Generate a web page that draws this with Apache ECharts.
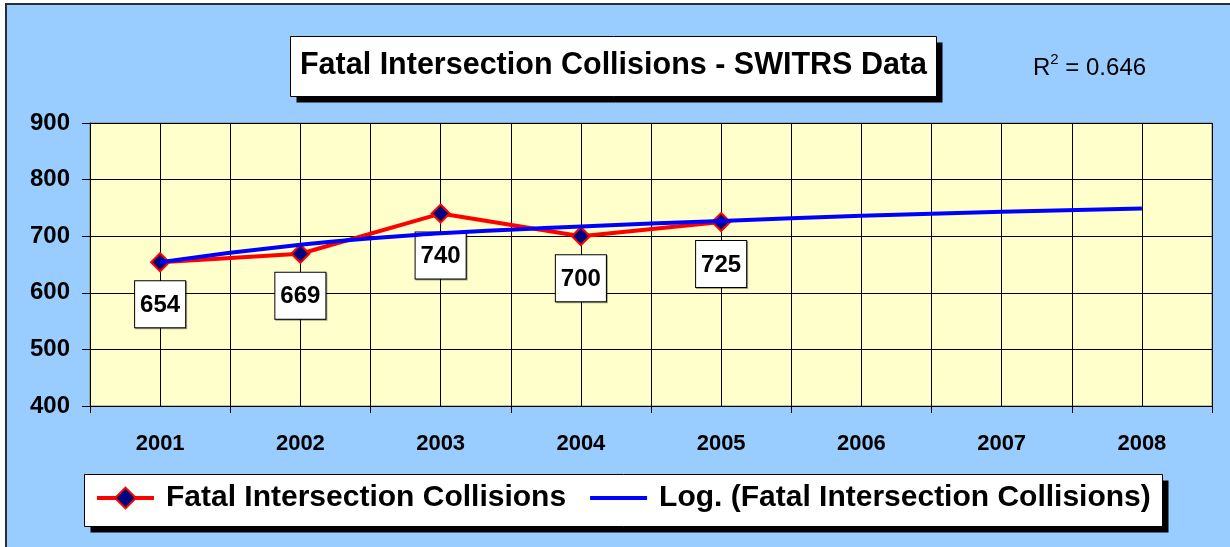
<!DOCTYPE html>
<html>
<head>
<meta charset="utf-8">
<script src="https://cdn.jsdelivr.net/npm/echarts@6/dist/echarts.min.js"></script>
<style>
  html, body { margin: 0; padding: 0; background: #ffffff; }
  #frame {
    position: absolute; left: 5px; top: 3px; width: 1240px; height: 560px;
    background: #99CCFF; border-left: 2px solid #2a2f36; border-top: 2px solid #2a2f36;
  }
  #chart { position: absolute; left: 0; top: 0; width: 1230px; height: 547px; }
</style>
</head>
<body>
<div id="frame"></div>
<div id="chart"></div>
<script>
// Years shown along the horizontal axis
const years = [2001, 2002, 2003, 2004, 2005, 2006, 2007, 2008];
// Observed fatal intersection collisions (2001-2005)
const collisionYears = [2001, 2002, 2003, 2004, 2005];
const collisions = [654, 669, 740, 700, 725];
// Logarithmic trend values, one per year (2001-2008)
const trendValues = [654, 685, 705, 717, 727, 736, 743, 749];
// Vertical axis ticks
const yTicks = [400, 500, 600, 700, 800, 900];
const titleText = 'Fatal Intersection Collisions - SWITRS Data';
const rSquared = '0.646';

const font = '"Liberation Sans", Arial, sans-serif';
const chart = echarts.init(document.getElementById('chart'), null, { renderer: 'canvas' });

// Category boundaries (ticks) sit half a year either side of each year
const boundaries = years.map(y => y - 0.5).concat([years[years.length - 1] + 0.5]);

// Boxed panel with a hard black drop shadow
function shadowBox(x, y, w, h) {
  return [
    { type: 'rect', z: 0, shape: { x: x + 6, y: y + 6, width: w, height: h }, style: { fill: '#000000' }, silent: true },
    { type: 'rect', z: 1, shape: { x: x, y: y, width: w, height: h }, style: { fill: '#ffffff', stroke: '#000000', lineWidth: 1 }, silent: true }
  ];
}

chart.setOption({
  animation: false,
  backgroundColor: 'transparent',
  textStyle: { fontFamily: font },
  graphic: [
    ...shadowBox(290.5, 36.5, 646, 60),
    ...shadowBox(84.5, 474.5, 1078, 52),
    {
      type: 'text', z: 2, x: 613.5, y: 66,
      style: {
        text: titleText, align: 'center', verticalAlign: 'middle',
        font: 'bold 30.5px ' + font, fill: '#000000'
      }
    },
    {
      type: 'text', left: 1033, top: 52,
      style: {
        text: '{r|R}{s|2}{r| = ' + rSquared + '}',
        rich: {
          r: { fontFamily: font, fontSize: 24, fill: '#000000', verticalAlign: 'bottom', lineHeight: 28 },
          s: { fontFamily: font, fontSize: 15, fill: '#000000', verticalAlign: 'top', lineHeight: 28, padding: [0, 0, 14, 0] }
        }
      }
    }
  ],
  legend: {
    left: 95, top: 483,
    padding: 0,
    itemWidth: 57, itemHeight: 26, itemGap: 22,
    textStyle: { fontFamily: font, fontSize: 30, fontWeight: 'bold', color: '#000000', padding: [0, 0, 0, 7] },
    data: [
      { name: 'Fatal Intersection Collisions', lineStyle: { width: 4 } },
      { name: 'Log. (Fatal Intersection Collisions)', lineStyle: { width: 4 }, itemStyle: { opacity: 0 } }
    ]
  },
  grid: {
    left: 90, right: 18, top: 123, bottom: 141,
    show: true, backgroundColor: '#FFFFCC', borderColor: '#808080', borderWidth: 1
  },
  xAxis: [
    {
      type: 'value',
      min: boundaries[0], max: boundaries[boundaries.length - 1], interval: 0.5,
      axisLine: { show: true, lineStyle: { color: '#000000', width: 1 } },
      axisTick: { show: true, length: 7, customValues: boundaries, lineStyle: { color: '#000000' } },
      axisLabel: {
        customValues: years, margin: 27,
        fontFamily: font, fontSize: 22, fontWeight: 'bold', color: '#000000',
        formatter: v => String(v)
      },
      splitLine: { show: false }
    },
    {
      // Grid lines every half year: at year boundaries and at each year
      type: 'value', position: 'top',
      min: boundaries[0], max: boundaries[boundaries.length - 1], interval: 0.5,
      axisLine: { show: false }, axisTick: { show: false }, axisLabel: { show: false },
      splitLine: { show: true, lineStyle: { color: '#000000', width: 1 } }
    }
  ],
  yAxis: {
    type: 'value',
    min: yTicks[0], max: yTicks[yTicks.length - 1], interval: 100,
    axisLine: { show: true, lineStyle: { color: '#000000', width: 1 } },
    axisTick: { show: true, length: 8, lineStyle: { color: '#000000' } },
    axisLabel: { margin: 20, fontFamily: font, fontSize: 24, fontWeight: 'bold', color: '#000000' },
    splitLine: { show: true, lineStyle: { color: '#000000', width: 1 } }
  },
  series: [
    {
      name: 'Fatal Intersection Collisions',
      type: 'line',
      xAxisIndex: 0,
      data: collisionYears.map((y, i) => [y, collisions[i]]),
      lineStyle: { color: '#FF0000', width: 4 },
      itemStyle: { color: '#000080', borderColor: '#FF0000', borderWidth: 2 },
      symbol: 'diamond', symbolSize: 18,
      z: 3,
      label: {
        show: true, position: 'bottom', distance: 9,
        formatter: p => String(p.value[1]),
        fontFamily: font, fontSize: 24, fontWeight: 'bold', color: '#000000',
        backgroundColor: '#ffffff', borderColor: '#000000', borderWidth: 1,
        padding: [12, 5, 10, 5],
        shadowColor: 'rgba(0,0,0,0.35)', shadowOffsetX: 1, shadowOffsetY: 1, shadowBlur: 0
      }
    },
    {
      name: 'Log. (Fatal Intersection Collisions)',
      type: 'line',
      xAxisIndex: 0,
      data: years.map((y, i) => [y, trendValues[i]]),
      smooth: true,
      showSymbol: false, symbol: 'none',
      lineStyle: { color: '#0000FF', width: 4 },
      itemStyle: { color: '#0000FF' },
      z: 4
    }
  ]
});
</script>
</body>
</html>
